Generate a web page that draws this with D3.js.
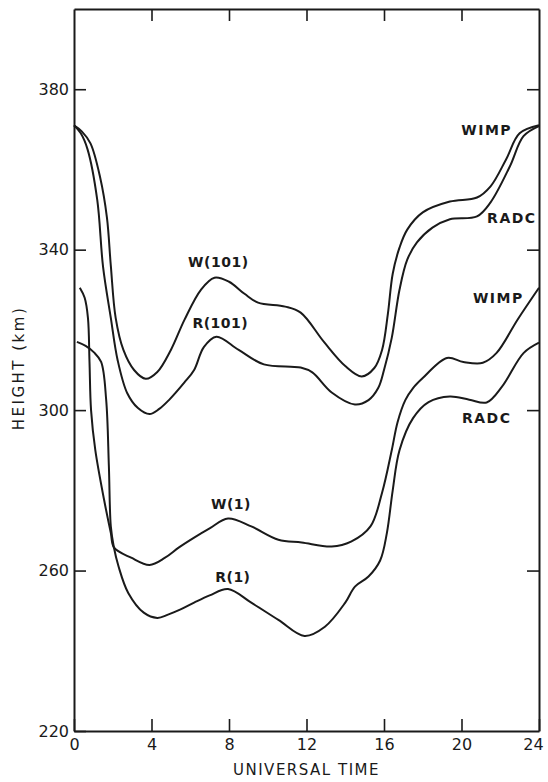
<!DOCTYPE html>
<html>
<head>
<meta charset="utf-8">
<script src="https://cdn.jsdelivr.net/npm/d3@7"></script>
<style>
  body { margin: 0; background: #fff; }
  svg { display: block; }
  text { font-family: "DejaVu Sans", sans-serif; fill: #1a1a1a; }
</style>
</head>
<body>
<div class="chart"></div>
<script>
// data (hour UT, height km)
var w101Hours = [0, 0.4, 0.85, 1.35, 1.7, 1.9, 2.15, 2.55, 3.1, 3.7, 4.3, 5.0, 5.7, 6.55, 7.25, 8.0, 8.8, 9.5, 10.9, 11.7, 12.9, 14.0, 14.85, 15.5, 15.9, 16.2, 16.45, 16.8, 17.2, 18.0, 19.4, 20.8, 21.5, 22.3, 23.0, 24];
var w101Km    = [371, 369.5, 366.5, 358, 348, 336, 323, 315, 310, 307.8, 309.5, 315, 322.5, 330, 333, 332, 329, 326.8, 325.8, 324.3, 317, 311, 308.4, 310.5, 315, 324, 334, 340.5, 345, 349.3, 352, 353, 355.8, 362.5, 369, 371];

var r101Hours = [0, 0.35, 0.7, 1.2, 1.5, 1.9, 2.25, 2.75, 3.3, 3.9, 4.4, 4.9, 5.7, 6.2, 6.7, 7.35, 8.5, 9.8, 11.7, 12.3, 13.3, 14.5, 15.2, 15.7, 16.0, 16.4, 16.8, 17.2, 17.7, 18.5, 19.4, 20.8, 21.5, 22.5, 23.2, 24];
var r101Km    = [371, 369, 365, 352.4, 335.7, 323, 312.5, 304.2, 300.5, 299, 300.3, 302.5, 306.9, 310, 315.7, 318.3, 315, 311.4, 310.6, 309.4, 304.4, 301.4, 302.5, 305.5, 310, 318, 330, 337.5, 341.8, 345.5, 347.6, 348.3, 351.8, 360.8, 368.3, 370.8];

var w1Hours = [0.3, 0.55, 0.72, 0.8, 0.88, 1.1, 1.55, 1.9, 2.07, 2.95, 3.9, 4.7, 5.4, 6.2, 7.0, 7.95, 9.15, 10.55, 11.75, 13.3, 14.3, 15.3, 15.9, 16.4, 16.7, 17.1, 17.5, 18.0, 19.25, 20.1, 21.1, 21.8, 22.9, 24];
var w1Km    = [330.5, 328, 323, 312, 300, 290, 277.7, 269.4, 265.7, 263.2, 261.4, 263.2, 265.7, 268.2, 270.5, 273, 271, 267.7, 267, 266, 267.2, 271, 279.4, 290, 297, 302.5, 305.5, 308, 313, 312, 311.8, 314.2, 322.6, 330.5];

var r1Hours = [0.15, 0.6, 1.03, 1.4, 1.66, 1.8, 1.9, 2.05, 2.3, 2.8, 3.6, 4.3, 4.85, 5.5, 6.2, 7.0, 7.95, 9.15, 10.55, 11.9, 12.95, 14.0, 14.5, 15.2, 15.8, 16.15, 16.45, 16.8, 17.5, 18.3, 19.4, 20.4, 21.3, 22.1, 23.2, 24];
var r1Km    = [317, 316, 314.4, 312, 302.6, 286, 271, 266, 261, 254.4, 249.5, 248.2, 249, 250.3, 252, 253.8, 255.4, 252, 247.7, 243.7, 246, 252, 256, 258.5, 262.5, 269.4, 280, 290, 298, 302, 303.4, 302.6, 301.9, 305.9, 314.2, 316.8];

var xTicks = [0, 4, 8, 12, 16, 20, 24];
var yTicks = [220, 260, 300, 340, 380];

// curve labels: text, hour, km
var labelText  = ["WIMP", "RADC", "WIMP", "RADC", "W(101)", "R(101)", "W(1)", "R(1)"];
var labelHour  = [21.3, 22.6, 21.9, 21.3, 7.45, 7.55, 8.1, 8.2];
var labelKm    = [369.8, 347.9, 328, 298, 336.9, 321.7, 276.6, 258.4];

var settings = { w: 548, h: 782, left: 74, right: 539, top: 9, bottom: 731 };

var svg = d3.select('.chart')
  .append('svg')
  .attr('width', settings.w)
  .attr('height', settings.h);

var x = d3.scaleLinear().domain([0, 24]).range([settings.left, settings.right]);
var y = d3.scaleLinear().domain([220, 400]).range([settings.bottom, settings.top]);

var styleAxis = function(g) {
  g.selectAll('path').attr('stroke', '#1a1a1a').attr('stroke-width', 2);
  g.selectAll('line').attr('stroke', '#1a1a1a').attr('stroke-width', 1.6);
  g.selectAll('text').style('font-family', '"DejaVu Sans", sans-serif').attr('fill', '#1a1a1a');
};

// bottom axis
var xAxisG = svg.append('g')
  .attr('transform', 'translate(0,' + settings.bottom + ')')
  .call(d3.axisBottom(x).tickValues(xTicks).tickSizeInner(-12).tickSizeOuter(0).tickPadding(8).tickFormat(d3.format('d')))
  .call(styleAxis);
xAxisG.selectAll('text').style('font-size', '16px');
// last label sits just inside the page edge
xAxisG.selectAll('text').filter(function(d) { return d === 24; }).attr('dx', -6);

// left axis
svg.append('g')
  .attr('transform', 'translate(' + settings.left + ',0)')
  .call(d3.axisLeft(y).tickValues(yTicks).tickSizeInner(-12).tickSizeOuter(0).tickPadding(5).tickFormat(d3.format('d')))
  .call(styleAxis)
  .selectAll('text').style('font-size', '16px');

// top and right frame with inward ticks, no labels
svg.append('g')
  .attr('transform', 'translate(0,' + settings.top + ')')
  .call(d3.axisTop(x).tickValues([4, 8, 12, 16, 20]).tickSizeInner(-12).tickSizeOuter(0).tickFormat(''))
  .call(styleAxis);

svg.append('g')
  .attr('transform', 'translate(' + settings.right + ',0)')
  .call(d3.axisRight(y).tickValues([260, 300, 340, 380]).tickSizeInner(-12).tickSizeOuter(0).tickFormat(''))
  .call(styleAxis);

// axis titles
svg.append('text')
  .attr('x', (settings.left + settings.right) / 2)
  .attr('y', 775)
  .attr('text-anchor', 'middle')
  .style('font-size', '15px')
  .style('letter-spacing', '1.5px')
  .text('UNIVERSAL TIME');

svg.append('text')
  .attr('transform', 'translate(24,' + 368 + ') rotate(-90)')
  .attr('text-anchor', 'middle')
  .style('font-size', '15px')
  .style('letter-spacing', '2.5px')
  .text('HEIGHT (km)');

// curves
var series = [
  [w101Hours, w101Km],
  [r101Hours, r101Km],
  [w1Hours, w1Km],
  [r1Hours, r1Km]
];

var line = d3.line()
  .x(function(d) { return x(d[0]); })
  .y(function(d) { return y(d[1]); })
  .curve(d3.curveCatmullRom.alpha(0.5));

svg.selectAll('path.curve')
  .data(series.map(function(s) { return d3.zip(s[0], s[1]); }))
  .enter()
  .append('path')
  .attr('class', 'curve')
  .attr('d', line)
  .attr('fill', 'none')
  .attr('stroke', '#1a1a1a')
  .attr('stroke-width', 2);

// curve labels
svg.selectAll('text.label')
  .data(d3.range(labelText.length))
  .enter()
  .append('text')
  .attr('class', 'label')
  .attr('x', function(i) { return x(labelHour[i]); })
  .attr('y', function(i) { return y(labelKm[i]); })
  .attr('dy', '0.36em')
  .attr('text-anchor', 'middle')
  .style('font-size', '14px')
  .style('font-weight', '600')
  .style('letter-spacing', function(i) { return labelText[i].indexOf('(') > -1 ? '0.5px' : '1.5px'; })
  .text(function(i) { return labelText[i]; });
</script>
</body>
</html>
